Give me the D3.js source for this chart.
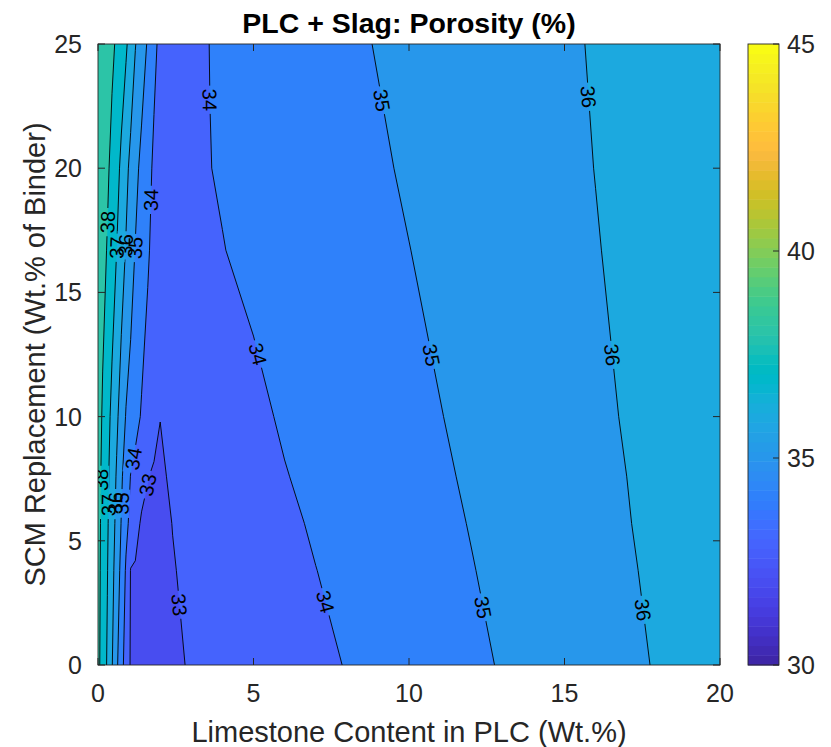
<!DOCTYPE html>
<html><head><meta charset="utf-8">
<script src="https://cdn.jsdelivr.net/npm/d3@7"></script>
<style>body{margin:0;background:#fff}svg{display:block}</style>
</head><body><svg id="c" width="831" height="747"></svg>
<script>
// ---------------- data ----------------
const title = "PLC + Slag: Porosity (%)";
const xLabel = "Limestone Content in PLC (Wt.%)";
const yLabel = "SCM Replacement (Wt.% of Binder)";
// grid nodes (limestone %, SCM %)
const limestone = [0,0.15,0.3,0.45,0.6,0.75,0.9,1.05,1.2,1.4,1.6,1.8,2.0,2.4,2.8,3.2,3.6,4.0,5,6,7,8,10,12,14,16,18,20];
const scm = [0,3.8,5.7,7.6,10,16.7,20,25];
// porosity (%) at each node, one row per SCM level
const porosity = [
 [38.25,37.59,36.89,36.06,35.18,34.33,33.59,32.91,32.84,32.82,32.82,32.83,32.85,32.92,33.00,33.08,33.16,33.24,33.43,33.63,33.83,34.03,34.44,34.85,35.25,35.65,36.05,36.45],
 [38.30,37.67,37.04,36.30,35.53,34.72,33.88,32.96,32.91,32.89,32.88,32.89,32.91,32.97,33.07,33.15,33.24,33.33,33.55,33.77,33.99,34.19,34.58,34.97,35.36,35.74,36.12,36.50],
 [38.32,37.72,37.12,36.44,35.72,34.95,34.24,33.74,33.34,32.88,32.84,32.83,32.86,33.01,33.11,33.20,33.29,33.39,33.62,33.86,34.08,34.27,34.65,35.03,35.41,35.78,36.16,36.53],
 [38.35,37.77,37.19,36.57,35.90,35.15,34.52,33.97,33.71,33.37,33.03,32.90,32.90,33.10,33.16,33.26,33.36,33.46,33.72,33.97,34.16,34.35,34.72,35.09,35.46,35.82,36.18,36.55],
 [38.45,37.89,37.33,36.77,36.19,35.55,34.94,34.63,34.31,33.92,33.62,33.31,33.01,33.12,33.23,33.34,33.46,33.57,33.85,34.08,34.26,34.44,34.80,35.16,35.51,35.87,36.22,36.58],
 [38.65,38.30,37.94,37.47,37.00,36.46,35.93,35.43,34.96,34.53,34.11,33.72,33.58,33.50,33.52,33.60,33.76,33.98,34.16,34.32,34.49,34.66,34.99,35.32,35.64,35.97,36.29,36.62],
 [38.75,38.45,38.14,37.76,37.30,36.81,36.26,35.75,35.28,34.75,34.30,33.84,33.70,33.62,33.62,33.72,33.99,34.06,34.23,34.40,34.57,34.75,35.08,35.39,35.70,36.01,36.32,36.63],
 [38.90,38.65,38.41,38.16,37.88,37.50,37.13,36.62,36.04,35.47,34.90,34.21,33.78,33.72,33.74,33.85,34.01,34.09,34.28,34.48,34.67,34.87,35.19,35.48,35.76,36.05,36.34,36.62]
];
const fillLevels = [32,33,34,35,36,37,38];
const lineLevels = [33,34,35,36,37,38];
const xTicks = [0,5,10,15,20];
const yTicks = [0,5,10,15,20,25];
const cbarTicks = [30,35,40,45];
const cLim = [30,45];
// contour label spots [level, limestone, scm]
const labelSpots = [
 [34,3.50,22.75],[35,8.97,22.7],[36,15.69,22.87],
 [38,0.28,17.83],[37,0.57,16.8],[36,0.77,16.9],[35,0.98,16.8],[34,1.72,18.72],
 [34,5.02,12.48],[35,10.74,12.48],[36,16.49,12.48],
 [34,1.14,8.3],[33,1.62,7.25],
 [38,0.12,7.45],[37,0.30,6.44],[36,0.55,6.52],[35,0.80,6.5],
 [33,2.57,2.42],[34,7.30,2.54],[35,12.41,2.33],[36,17.46,2.21]
];
const parula = [
[0.2422,0.1504,0.6603],[0.2504,0.1650,0.7076],[0.2578,0.1818,0.7511],[0.2647,0.1978,0.7952],[0.2706,0.2147,0.8364],[0.2751,0.2342,0.8710],[0.2783,0.2559,0.8991],[0.2803,0.2782,0.9221],
[0.2813,0.3006,0.9414],[0.2810,0.3228,0.9579],[0.2795,0.3447,0.9717],[0.2760,0.3667,0.9829],[0.2699,0.3892,0.9906],[0.2602,0.4123,0.9952],[0.2440,0.4358,0.9988],[0.2206,0.4603,0.9973],
[0.1963,0.4847,0.9892],[0.1834,0.5074,0.9798],[0.1786,0.5289,0.9682],[0.1764,0.5499,0.9520],[0.1687,0.5703,0.9359],[0.1540,0.5902,0.9218],[0.1460,0.6091,0.9079],[0.1380,0.6276,0.8973],
[0.1248,0.6459,0.8883],[0.1113,0.6635,0.8763],[0.0952,0.6798,0.8598],[0.0689,0.6948,0.8394],[0.0297,0.7082,0.8163],[0.0036,0.7203,0.7917],[0.0067,0.7312,0.7660],[0.0433,0.7411,0.7394],
[0.0964,0.7500,0.7120],[0.1408,0.7584,0.6842],[0.1717,0.7670,0.6554],[0.1938,0.7758,0.6251],[0.2161,0.7843,0.5923],[0.2470,0.7918,0.5567],[0.2906,0.7973,0.5188],[0.3406,0.8008,0.4789],
[0.3909,0.8029,0.4354],[0.4456,0.8024,0.3909],[0.5044,0.7993,0.3480],[0.5616,0.7942,0.3045],[0.6174,0.7876,0.2612],[0.6720,0.7793,0.2227],[0.7242,0.7698,0.1910],[0.7738,0.7598,0.1646],
[0.8203,0.7498,0.1535],[0.8634,0.7406,0.1596],[0.9035,0.7330,0.1774],[0.9393,0.7288,0.2100],[0.9728,0.7298,0.2394],[0.9956,0.7434,0.2371],[0.9970,0.7659,0.2199],[0.9952,0.7893,0.2028],
[0.9892,0.8136,0.1885],[0.9786,0.8386,0.1766],[0.9676,0.8639,0.1643],[0.9610,0.8890,0.1537],[0.9597,0.9135,0.1423],[0.9628,0.9373,0.1265],[0.9691,0.9606,0.1064],[0.9769,0.9839,0.0805]
];

// ---------------- layout ----------------
const P = {l:98, r:720, t:44, b:665};
const CB = {l:748, r:779};
const FONT = "'Liberation Sans', Arial, Helvetica, sans-serif";
const AX = "#262626";

const svg = d3.select("#c");
const x = d3.scaleLinear().domain([0,20]).range([P.l,P.r]);
const y = d3.scaleLinear().domain([0,25]).range([P.b,P.t]);
const nx = limestone.length, ny = scm.length;
const ix = d3.scaleLinear().domain(limestone.map((d,i)=>i+0.5)).range(limestone).clamp(true);
const iy = d3.scaleLinear().domain(scm.map((d,i)=>i+0.5)).range(scm).clamp(true);
const cmap = v => {
  let k = Math.floor((v-cLim[0])/(cLim[1]-cLim[0])*parula.length);
  k = Math.max(0, Math.min(parula.length-1, k));
  const c = parula[k];
  return d3.rgb(c[0]*255, c[1]*255, c[2]*255).formatHex();
};
const flat = porosity.flat();
const proj = d3.geoTransform({point(a,b){ this.stream.point(x(ix(a)), y(iy(b))); }});
const path = d3.geoPath(proj);

const defs = svg.append("defs");
defs.append("clipPath").attr("id","plotclip").append("rect")
  .attr("x",P.l).attr("y",P.t).attr("width",P.r-P.l).attr("height",P.b-P.t);

// filled contours
const bands = d3.contours().size([nx,ny]).thresholds(fillLevels)(flat);
svg.append("g").attr("clip-path","url(#plotclip)")
  .selectAll("path").data(bands).join("path")
  .attr("d", path).attr("fill", d=>cmap(d.value)).attr("stroke", d=>cmap(d.value)).attr("stroke-width",0.3);

// contour lines
const X0=P.l, X1=P.r, Y0=P.t, Y1=P.b, eps=0.05;
function linesFor(level){
  const c = d3.contours().size([nx,ny]).thresholds([level])(flat)[0];
  const out=[];
  const same=(p,q)=> (Math.abs(p[0]-X0)<eps&&Math.abs(q[0]-X0)<eps)||(Math.abs(p[0]-X1)<eps&&Math.abs(q[0]-X1)<eps)||
                     (Math.abs(p[1]-Y0)<eps&&Math.abs(q[1]-Y0)<eps)||(Math.abs(p[1]-Y1)<eps&&Math.abs(q[1]-Y1)<eps);
  c.coordinates.forEach(poly=>poly.forEach(ring=>{
    const pts = ring.map(([a,b])=>[x(ix(a)), y(iy(b))]);
    let cur=null;
    for(let k=0;k<pts.length-1;k++){
      const p=pts[k], q=pts[k+1];
      if(same(p,q)){ if(cur&&cur.length>1) out.push(cur); cur=null; continue; }
      if(!cur) cur=[p];
      cur.push(q);
    }
    if(cur&&cur.length>1) out.push(cur);
  }));
  return out;
}
const lineSets = {};
lineLevels.forEach(l=> lineSets[l]=linesFor(l));

// labels
const LFS = 20;
const mask = defs.append("mask").attr("id","lblmask").attr("maskUnits","userSpaceOnUse")
  .attr("x",0).attr("y",0).attr("width",831).attr("height",747);
mask.append("rect").attr("width",831).attr("height",747).attr("fill","white");
const lblG = svg.append("g").attr("clip-path","url(#plotclip)");
const placed = labelSpots.map(([lev,lx,ly])=>{
  const px=x(lx), py=y(ly);
  let best=null, bd=1e9;
  (lineSets[lev]||[]).forEach(line=>{
    for(let k=0;k<line.length-1;k++){
      const a=line[k], b=line[k+1];
      const dx=b[0]-a[0], dy=b[1]-a[1], L2=dx*dx+dy*dy;
      if(L2<1e-6) continue;
      let t=((px-a[0])*dx+(py-a[1])*dy)/L2; t=Math.max(0,Math.min(1,t));
      const qx=a[0]+t*dx, qy=a[1]+t*dy, dd=(qx-px)**2+(qy-py)**2;
      if(dd<bd){bd=dd; best={x:qx,y:qy,ang:Math.atan(dy/(dx===0?1e-9:dx))*180/Math.PI};}
    }
  });
  if(!best) best={x:px,y:py,ang:90};
  return {lev, ...best};
});
placed.forEach(p=>{
  const t = lblG.append("text").attr("x",0).attr("y",0)
    .attr("transform",`translate(${p.x},${p.y}) rotate(${p.ang})`)
    .attr("text-anchor","middle").attr("dy","0.36em")
    .attr("font-family",FONT).attr("font-size",LFS).attr("fill","#000").text(p.lev);
  const w = t.node().getComputedTextLength();
  mask.append("rect").attr("x",-w/2-3).attr("y",-LFS*0.42).attr("width",w+6).attr("height",LFS*0.84)
    .attr("transform",`translate(${p.x},${p.y}) rotate(${p.ang})`).attr("fill","black");
});
const lineG = svg.insert("g", () => lblG.node()).attr("clip-path","url(#plotclip)")
  .append("g").attr("mask","url(#lblmask)");
lineLevels.forEach(l=>{
  lineG.selectAll(null).data(lineSets[l]).join("path")
    .attr("d", d=>d3.line()(d)).attr("fill","none").attr("stroke","#000").attr("stroke-width",0.9)
    .attr("stroke-linejoin","round");
});

// axes box & ticks
const ax = svg.append("g");
ax.append("rect").attr("x",P.l).attr("y",P.t).attr("width",P.r-P.l).attr("height",P.b-P.t)
  .attr("fill","none").attr("stroke",AX).attr("stroke-width",0.9);
const TL=7;
xTicks.forEach(v=>{
  ax.append("line").attr("x1",x(v)).attr("x2",x(v)).attr("y1",P.b).attr("y2",P.b-TL).attr("stroke",AX);
  ax.append("line").attr("x1",x(v)).attr("x2",x(v)).attr("y1",P.t).attr("y2",P.t+TL).attr("stroke",AX);
  ax.append("text").attr("x",x(v)).attr("y",P.b+37).attr("text-anchor","middle")
    .attr("font-family",FONT).attr("font-size",25).attr("fill",AX).text(v);
});
yTicks.forEach(v=>{
  ax.append("line").attr("x1",P.l).attr("x2",P.l+TL).attr("y1",y(v)).attr("y2",y(v)).attr("stroke",AX);
  ax.append("line").attr("x1",P.r).attr("x2",P.r-TL).attr("y1",y(v)).attr("y2",y(v)).attr("stroke",AX);
  ax.append("text").attr("x",P.l-16).attr("y",y(v)+9).attr("text-anchor","end")
    .attr("font-family",FONT).attr("font-size",25).attr("fill",AX).text(v);
});
svg.append("text").attr("x",(P.l+P.r)/2).attr("y",742).attr("text-anchor","middle")
  .attr("font-family",FONT).attr("font-size",29).attr("fill",AX).text(xLabel);
svg.append("text").attr("transform",`translate(45,${(P.t+P.b)/2}) rotate(-90)`).attr("text-anchor","middle")
  .attr("font-family",FONT).attr("font-size",29).attr("fill",AX).text(yLabel);
svg.append("text").attr("x",(P.l+P.r)/2).attr("y",33).attr("text-anchor","middle")
  .attr("font-family",FONT).attr("font-size",28.5).attr("font-weight","bold").attr("fill","#000").text(title);

// colorbar
const cy = d3.scaleLinear().domain(cLim).range([P.b,P.t]);
const cb = svg.append("g");
const nC = parula.length;
cb.selectAll("rect.c").data(parula).join("rect").attr("class","c")
  .attr("x",CB.l).attr("width",CB.r-CB.l)
  .attr("y",(d,i)=>cy(cLim[0]+(i+1)*(cLim[1]-cLim[0])/nC))
  .attr("height",(d,i)=>cy(cLim[0]+i*(cLim[1]-cLim[0])/nC)-cy(cLim[0]+(i+1)*(cLim[1]-cLim[0])/nC)+0.5)
  .attr("fill",d=>d3.rgb(d[0]*255,d[1]*255,d[2]*255).formatHex());
cb.append("rect").attr("x",CB.l).attr("y",P.t).attr("width",CB.r-CB.l).attr("height",P.b-P.t)
  .attr("fill","none").attr("stroke",AX).attr("stroke-width",0.9);
cbarTicks.forEach(v=>{
  cb.append("line").attr("x1",CB.r).attr("x2",CB.r-6).attr("y1",cy(v)).attr("y2",cy(v)).attr("stroke",AX);
  cb.append("text").attr("x",CB.r+8).attr("y",cy(v)+9).attr("font-family",FONT).attr("font-size",25)
    .attr("fill",AX).text(v);
});
</script></body></html>
